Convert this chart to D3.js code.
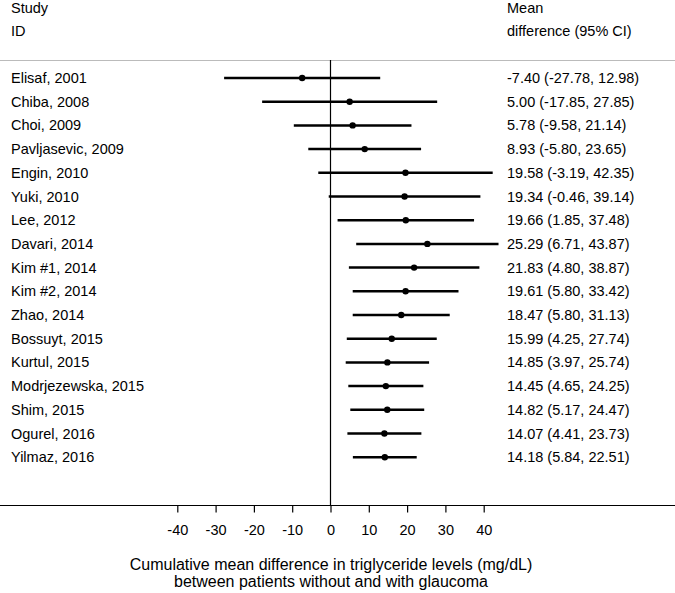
<!DOCTYPE html>
<html><head><meta charset="utf-8">
<script src="https://cdn.jsdelivr.net/npm/d3@7"></script>
<style>body{margin:0;background:#fff}svg{display:block}text{font-family:"Liberation Sans",Arial,sans-serif;fill:#000}</style>
</head><body>
<svg id="c" width="675" height="593"></svg>
<script>
const studies = ["Elisaf, 2001","Chiba, 2008","Choi, 2009","Pavljasevic, 2009","Engin, 2010","Yuki, 2010","Lee, 2012","Davari, 2014","Kim #1, 2014","Kim #2, 2014","Zhao, 2014","Bossuyt, 2015","Kurtul, 2015","Modrjezewska, 2015","Shim, 2015","Ogurel, 2016","Yilmaz, 2016"];
const means = [-7.40,5.00,5.78,8.93,19.58,19.34,19.66,25.29,21.83,19.61,18.47,15.99,14.85,14.45,14.82,14.07,14.18];
const lower = [-27.78,-17.85,-9.58,-5.80,-3.19,-0.46,1.85,6.71,4.80,5.80,5.80,4.25,3.97,4.65,5.17,4.41,5.84];
const upper = [12.98,27.85,21.14,23.65,42.35,39.14,37.48,43.87,38.87,33.42,31.13,27.74,25.74,24.25,24.47,23.73,22.51];
const tickValues = [-40,-30,-20,-10,0,10,20,30,40];
const xTitle = ["Cumulative mean difference in triglyceride levels (mg/dL)","between patients without and with glaucoma"];

const svg = d3.select("#c");
const fs = "14.5px";
const x = d3.scaleLinear().domain([-40,40]).range([177.3,483.7]);
const y = d3.scaleBand().domain(studies).range([66.15,469.05]);
const yc = d => y(d) + y.bandwidth()/2;

// header
svg.append("text").attr("x",11).attr("y",13).style("font-size",fs).text("Study");
svg.append("text").attr("x",11).attr("y",36).style("font-size",fs).text("ID");
svg.append("text").attr("x",507).attr("y",13).style("font-size",fs).text("Mean");
svg.append("text").attr("x",507).attr("y",36).style("font-size",fs).text("difference (95% CI)");
svg.append("line").attr("x1",0).attr("x2",675).attr("y1",60.5).attr("y2",60.5).attr("stroke","#bbb").attr("stroke-width",1.2);

// zero line
svg.append("line").attr("x1",x(0)).attr("x2",x(0)).attr("y1",60).attr("y2",505).attr("stroke","#000").attr("stroke-width",1.2);

const rows = svg.append("g").selectAll("g").data(studies).join("g");
rows.append("text").attr("x",11).attr("y",d=>yc(d)+5).style("font-size",fs).text(d=>d);
rows.append("line").attr("x1",(d,i)=>x(lower[i])).attr("x2",(d,i)=>x(upper[i]))
  .attr("y1",d=>yc(d)).attr("y2",d=>yc(d)).attr("stroke","#000").attr("stroke-width",2.5);
rows.append("circle").attr("cx",(d,i)=>x(means[i])).attr("cy",d=>yc(d)).attr("r",3.2).attr("fill","#000");
rows.append("text").attr("x",507).attr("y",d=>yc(d)+5).style("font-size",fs)
  .text((d,i)=>`${means[i].toFixed(2)} (${lower[i].toFixed(2)}, ${upper[i].toFixed(2)})`);

// axis
svg.append("line").attr("x1",0).attr("x2",675).attr("y1",505.5).attr("y2",505.5).attr("stroke","#000").attr("stroke-width",1.2);
const ax = svg.append("g").attr("transform","translate(0,505.5)")
  .call(d3.axisBottom(x).tickValues(tickValues).tickSize(7).tickPadding(0).tickFormat(d=>String(d)));
ax.select(".domain").remove();
ax.selectAll("line").attr("stroke","#000").attr("stroke-width",1.2);
ax.selectAll("text").attr("dy",null).attr("y",29.5).style("font-size",fs).attr("font-family","Liberation Sans, Arial, sans-serif");

svg.append("text").attr("x",331).attr("y",570).attr("text-anchor","middle").style("font-size","16px").text(xTitle[0]);
svg.append("text").attr("x",331).attr("y",587).attr("text-anchor","middle").style("font-size","16px").text(xTitle[1]);
</script>
</body></html>
